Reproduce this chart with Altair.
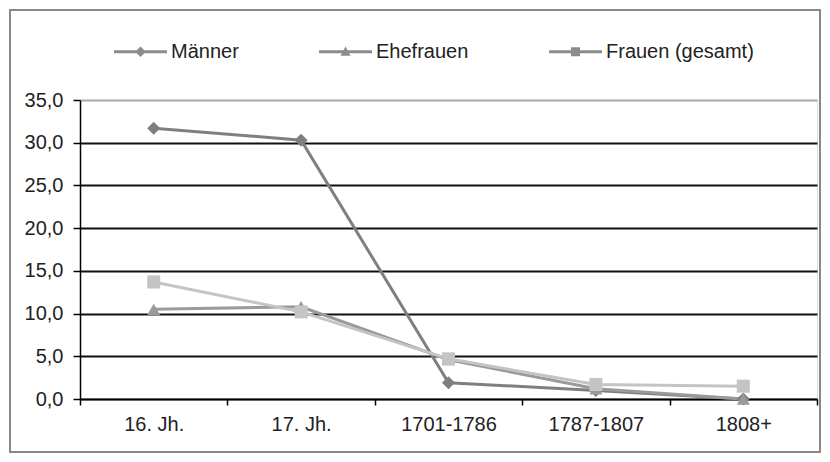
import altair as alt
import pandas as pd

categories = ["16. Jh.", "17. Jh.", "1701-1786", "1787-1807", "1808+"]
series_names = ["Männer", "Ehefrauen", "Frauen (gesamt)"]
maenner = [31.7, 30.3, 1.9, 1.0, 0.0]
ehefrauen = [10.5, 10.8, 4.6, 1.2, 0.0]
frauen = [13.7, 10.2, 4.7, 1.7, 1.5]
y_ticks = [0, 5, 10, 15, 20, 25, 30, 35]

colors = ["#7f7f7f", "#9a9a9a", "#c4c4c4"]
shapes = ["diamond", "triangle-up", "square"]
legend_paths = [
    "M-1,-0.055H1V0.055H-1Z M0,-0.2L0.2,0L0,0.2L-0.2,0Z",
    "M-1,-0.055H1V0.055H-1Z M0,-0.2L0.19,0.15L-0.19,0.15Z",
    "M-1,-0.055H1V0.055H-1Z M-0.17,-0.17H0.17V0.17H-0.17Z",
]

rows = []
for name, vals in zip(series_names, [maenner, ehefrauen, frauen]):
    for c, v in zip(categories, vals):
        rows.append({"cat": c, "series": name, "value": v})
df = pd.DataFrame(rows)

FONT = "Liberation Sans"

x_enc = alt.X(
    "cat:N",
    sort=categories,
    scale=alt.Scale(type="band", domain=categories, paddingInner=0, paddingOuter=0),
    axis=alt.Axis(
        title=None, labelAngle=0, tickBand="extent", domainColor="black",
        domainWidth=1.5, tickColor="black", tickWidth=1.5, tickSize=6,
        labelFont=FONT, labelFontSize=20, labelColor="#222", labelPadding=9,
        grid=False,
    ),
)
y_enc = alt.Y(
    "value:Q",
    scale=alt.Scale(domain=[0, 35], nice=False),
    axis=alt.Axis(
        title=None, values=y_ticks,
        labelExpr="replace(format(datum.value, '.1f'), '.', ',')",
        domainColor="black", domainWidth=1.5, tickColor="black", tickWidth=1.5,
        tickSize=7, labelFont=FONT, labelFontSize=20, labelColor="#222",
        labelPadding=10, grid=True,
        gridColor=alt.condition("datum.value == 35", alt.value("#aaaaaa"), alt.value("#111111")),
        gridWidth=1.8,
    ),
)

base = alt.Chart(df)

lines = base.mark_line(strokeWidth=3).encode(
    x=x_enc,
    y=y_enc,
    stroke=alt.Stroke("series:N", scale=alt.Scale(domain=series_names, range=colors), legend=None),
    order=alt.Order("cat_idx:Q"),
).transform_calculate(cat_idx="indexof(%s, datum.cat)" % str(categories))

points = base.mark_point(filled=True, size=170, opacity=1).encode(
    x=x_enc,
    y=y_enc,
    fill=alt.Fill("series:N", scale=alt.Scale(domain=series_names, range=colors), legend=None),
    shape=alt.Shape("series:N", scale=alt.Scale(domain=series_names, range=shapes), legend=None),
)

legend_layer = base.mark_point(filled=True, opacity=1).encode(
    x=x_enc,
    y=y_enc,
    color=alt.Color(
        "series:N",
        scale=alt.Scale(domain=series_names, range=colors),
        legend=alt.Legend(
            title=None, orient="none", direction="horizontal", legendX=34, legendY=-75,
            symbolSize=2800, labelFont=FONT, labelFontSize=20, labelColor="#222",
            labelOffset=4, columnPadding=80, padding=0, symbolStrokeWidth=0,
            symbolOpacity=1,
        ),
    ),
    shape=alt.Shape(
        "series:N",
        scale=alt.Scale(domain=series_names, range=legend_paths),
        legend=alt.Legend(
            title=None, orient="none", direction="horizontal", legendX=34, legendY=-75,
            symbolSize=2800, labelFont=FONT, labelFontSize=20, labelColor="#222",
            labelOffset=4, columnPadding=80, padding=0, symbolStrokeWidth=0,
            symbolOpacity=1, symbolFillColor="#8c8c8c",
        ),
    ),
).transform_filter("false")

frame = alt.Chart(pd.DataFrame({"a": [0]})).mark_rect(
    fill=None, stroke="#888888", strokeWidth=2
).encode(
    x=alt.value(-70), x2=alt.value(740), y=alt.value(-90), y2=alt.value(352)
)

chart = alt.layer(frame, lines, points, legend_layer).resolve_scale(
    shape="independent"
).properties(
    width=737, height=299,
    autosize=alt.AutoSizeParams(type="none"),
    padding={"left": 72, "top": 92, "right": 5, "bottom": 55},
).configure_view(stroke="#aaaaaa", strokeWidth=1.5).configure(background="white")

chart.save("out.html", embed_options={"renderer": "svg", "actions": False})
